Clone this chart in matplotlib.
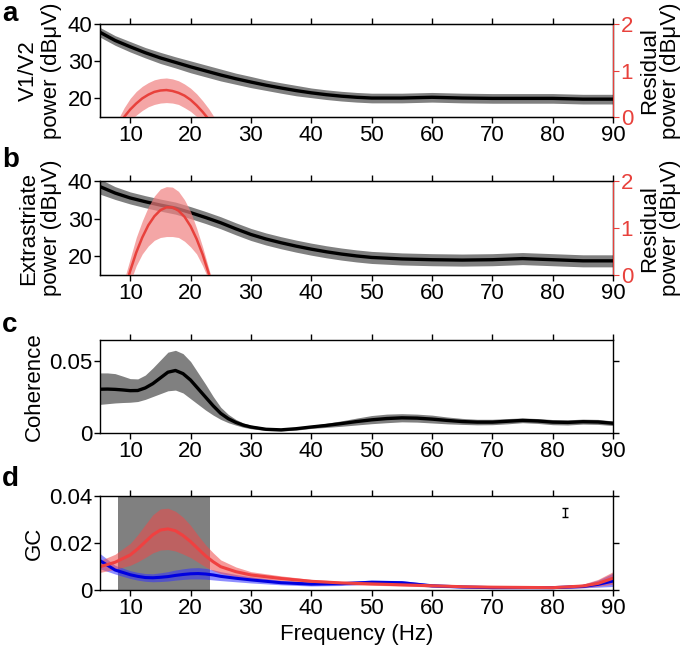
import matplotlib
matplotlib.use('Agg')
import matplotlib.pyplot as plt
import numpy as np

plt.rcParams['font.family'] = ['Liberation Sans', 'DejaVu Sans']
plt.rcParams['font.size'] = 16

# panels a and b: power spectra (black) and residual power (red)
freq = [5, 7.5, 10, 12.5, 15, 17.5, 20, 22.5, 25, 27.5, 30, 32.5, 35, 37.5, 40, 42.5, 45, 47.5, 50,
        55, 60, 65, 70, 75, 80, 85, 90]
pow_a = [37.8, 35.6, 33.9, 32.3, 30.9, 29.7, 28.5, 27.4, 26.3, 25.3, 24.4, 23.55, 22.8, 22.1, 21.5, 21.0, 20.6, 20.3, 20.1,
         20.1, 20.3, 20.1, 20.0, 20.0, 20.0, 19.8, 19.8]
pow_a_err = [1.3, 1.3, 1.4, 1.4, 1.5, 1.5, 1.6, 1.6, 1.6, 1.5, 1.5, 1.4, 1.4, 1.4, 1.3, 1.3, 1.3, 1.3, 1.3,
             1.3, 1.3, 1.3, 1.3, 1.3, 1.3, 1.3, 1.3]
pow_b = [38.5, 36.8, 35.5, 34.5, 33.6, 32.8, 31.6, 30.3, 28.9, 27.3, 25.8, 24.6, 23.6, 22.7, 21.9, 21.2, 20.6, 20.1, 19.7,
         19.3, 19.1, 19.0, 19.1, 19.4, 19.1, 18.8, 18.8]
pow_b_err = [2.0, 1.7, 1.6, 1.6, 1.6, 1.6, 1.6, 1.6, 1.6, 1.6, 1.6, 1.6, 1.6, 1.6, 1.6, 1.6, 1.6, 1.6, 1.6,
             1.6, 1.6, 1.6, 1.6, 1.6, 1.6, 1.6, 1.6]

freq_res = [8, 9, 10, 11, 12, 13, 14, 15, 16, 17, 18, 19, 20, 21, 22, 23, 24]
res_a = [-0.18, 0.0, 0.16, 0.29, 0.40, 0.48, 0.54, 0.57, 0.58, 0.56, 0.52, 0.46, 0.37, 0.25, 0.11, -0.05, -0.24]
res_a_hi = [-0.05, 0.2, 0.4, 0.55, 0.66, 0.74, 0.8, 0.83, 0.84, 0.82, 0.78, 0.71, 0.62, 0.5, 0.35, 0.18, -0.02]
res_a_lo = [-0.35, -0.2, -0.08, 0.04, 0.14, 0.22, 0.27, 0.3, 0.31, 0.3, 0.27, 0.2, 0.12, 0.01, -0.12, -0.28, -0.45]
res_b = [-1.0, -0.37, 0.09, 0.48, 0.80, 1.06, 1.25, 1.38, 1.44, 1.44, 1.37, 1.24, 1.04, 0.77, 0.44, 0.04, -0.42]
res_b_hi = [-0.6, -0.1, 0.35, 0.8, 1.15, 1.45, 1.68, 1.83, 1.88, 1.87, 1.78, 1.6, 1.35, 1.0, 0.6, 0.15, -0.3]
res_b_lo = [-1.2, -0.6, -0.15, 0.2, 0.45, 0.62, 0.74, 0.8, 0.82, 0.82, 0.8, 0.72, 0.6, 0.45, 0.2, -0.1, -0.55]

# panel c: coherence
freq_c = [5, 6.25, 7.5, 8.75, 10, 11.25, 12.5, 13.75, 15, 16.25, 17.5, 18.75, 20, 21.25, 22.5, 23.75, 25,
          26.25, 27.5, 28.75, 30, 32.5, 35, 37.5, 40, 42.5, 45, 47.5, 50, 52.5, 55, 57.5, 60, 62.5, 65,
          67.5, 70, 72.5, 75, 77.5, 80, 82.5, 85, 87.5, 90]
coh = [.0306, .0307, .0305, .0301, .0296, .0297, .0315, .0345, .0385, .0425, .0437, .0415, .037, .031, .025,
       .019, .0137, .0100, .0074, .0055, .0042, .0026, .0022, .003, .0042, .0053, .0066, .008, .0092, .0101,
       .0106, .0104, .0097, .0088, .008, .0076, .0076, .0082, .0088, .0084, .0076, .0074, .0079, .0077, .0068]
coh_hi = [.042, .042, .0415, .0398, .038, .0378, .0405, .0455, .051, .0565, .0578, .0555, .050, .042, .034,
          .0255, .018, .013, .0095, .007, .0055, .0035, .003, .0038, .0052, .0068, .0085, .0104, .0122, .0132,
          .0135, .0132, .0125, .0112, .0102, .0096, .0096, .0101, .0105, .0101, .0094, .0092, .0097, .0095, .0084]
coh_lo = [.020, .0205, .021, .0213, .0215, .022, .0235, .0255, .0275, .0295, .030, .028, .024, .020, .016,
          .0125, .0095, .0072, .0055, .004, .003, .0017, .0014, .002, .0032, .0039, .0047, .0056, .0065, .0072,
          .0078, .0076, .007, .0064, .006, .0057, .0058, .0064, .0072, .0067, .0058, .0056, .0062, .006, .0052]

# panel d: Granger causality, two directions
freq_d = [5, 7.5, 10, 11.25, 12.5, 13.75, 15, 16.25, 17.5, 18.75, 20, 21.25, 22.5, 23.75, 25, 27.5, 30,
          35, 40, 45, 50, 55, 60, 65, 70, 75, 80, 85, 87.5, 90]
gc_red = [.0099, .0118, .0149, .0175, .0205, .0235, .0255, .026, .0252, .0232, .0206, .0175, .0145, .012,
          .0099, .0078, .0064, .0049, .0037, .003, .0026, .0022, .0018, .0014, .0012, .0011, .001, .0017, .0028, .005]
gc_red_hi = [.0125, .0152, .0198, .0235, .0278, .032, .0345, .0348, .0335, .031, .0275, .0232, .0192, .0158,
             .0128, .0098, .0078, .006, .0045, .0037, .0032, .0028, .0023, .0018, .0016, .0015, .0014, .0025, .0045, .0078]
gc_red_lo = [.0075, .0088, .0105, .012, .0138, .0158, .017, .0172, .0166, .0153, .0138, .0118, .0098, .0082,
             .007, .0058, .005, .004, .003, .0024, .002, .0017, .0013, .001, .0008, .0007, .0006, .001, .0016, .0025]
gc_blue = [.0125, .0085, .0065, .0058, .0053, .0052, .0054, .0057, .0062, .0066, .0069, .007, .0068, .0064,
           .0058, .005, .0043, .0031, .0025, .0027, .0033, .0031, .0018, .0013, .001, .001, .001, .0015, .0024, .0038]
gc_blue_hi = [.0155, .0105, .0082, .0075, .007, .0069, .0073, .0078, .0085, .009, .0094, .0095, .0092, .0086,
              .0078, .0066, .0056, .0041, .0033, .0035, .0042, .004, .0025, .0019, .0015, .0015, .0015, .0024, .0042, .0072]
gc_blue_lo = [.009, .0068, .0049, .0042, .0037, .0035, .0036, .0038, .0042, .0045, .0047, .0047, .0046, .0043,
              .004, .0035, .003, .0022, .0017, .0019, .0025, .0023, .0012, .0008, .0006, .0006, .0006, .0009, .0012, .0015]
beta_band = [8, 23.3]
errbar_pos = [82, 0.033]
errbar_half = 0.002

xticks = [10, 20, 30, 40, 50, 60, 70, 80, 90]
GRAY = '#808080'
RED = '#e8413c'
RED_BAND = '#f08080'

fig = plt.figure(figsize=(6.85, 6.52), dpi=100)
L, W = 0.146, 0.749
rects = [(L, 0.8206, W, 0.1424), (L, 0.578, W, 0.1444),
         (L, 0.3359, W, 0.1426), (L, 0.0951, W, 0.1442)]
axes = [fig.add_axes(r) for r in rects]

def style(ax):
    ax.set_xlim(5, 90)
    ax.set_xticks(xticks)
    ax.tick_params(direction='out', length=4, width=1, top=True, right=True, pad=1.5)
    for s in ax.spines.values():
        s.set_linewidth(1)

def power_panel(ax, p, perr, res, rhi, rlo, ylab):
    style(ax)
    p = np.array(p); perr = np.array(perr)
    ax.fill_between(freq, p - perr, p + perr, color=GRAY, lw=0)
    ax.plot(freq, p, color='black', lw=2.4)
    ax.set_ylim(15, 40)
    ax.set_yticks([20, 30, 40])
    ax.set_ylabel(ylab, labelpad=4, linespacing=1.15)
    ax.tick_params(right=False)
    ax2 = ax.twinx()
    ax2.set_xlim(5, 90)
    ax2.fill_between(freq_res, rlo, rhi, color=RED_BAND, alpha=0.7, lw=0)
    ax2.plot(freq_res, res, color=RED, lw=1.8)
    ax2.set_ylim(0, 2)
    ax2.set_yticks([0, 1, 2])
    ax2.spines['right'].set_color(RED)
    ax2.tick_params(axis='y', colors=RED, direction='out', length=4, pad=1.5)
    ax2.set_ylabel('Residual\npower (dB\u03bcV)', labelpad=4, linespacing=1.0)

power_panel(axes[0], pow_a, pow_a_err, res_a, res_a_hi, res_a_lo, 'V1/V2\npower (dB\u03bcV)')
power_panel(axes[1], pow_b, pow_b_err, res_b, res_b_hi, res_b_lo, 'Extrastriate\npower (dB\u03bcV)')

ax = axes[2]
style(ax)
ax.fill_between(freq_c, coh_lo, coh_hi, color=GRAY, lw=0)
ax.plot(freq_c, coh, color='black', lw=2.4)
ax.set_ylim(0, 0.065)
ax.set_yticks([0, 0.05])
ax.set_yticklabels(['0', '0.05'])
ax.set_ylabel('Coherence', labelpad=3)

ax = axes[3]
style(ax)
ax.axvspan(beta_band[0], beta_band[1], color=GRAY, lw=0, zorder=0)
ax.fill_between(freq_d, gc_blue_lo, gc_blue_hi, color='#3030ff', alpha=0.55, lw=0)
ax.plot(freq_d, gc_blue, color='#0000e0', lw=2.2)
ax.fill_between(freq_d, gc_red_lo, gc_red_hi, color='#f04848', alpha=0.55, lw=0)
ax.plot(freq_d, gc_red, color='#f04040', lw=2.2)
ax.errorbar([errbar_pos[0]], [errbar_pos[1]], yerr=errbar_half, color='black',
            lw=1, capsize=2.5, capthick=1)
ax.set_ylim(0, 0.04)
ax.set_yticks([0, 0.02, 0.04])
ax.set_yticklabels(['0', '0.02', '0.04'])
ax.set_ylabel('GC', labelpad=3)
ax.set_xlabel('Frequency (Hz)', labelpad=4)

for lab, y in zip('abcd', [0.999, 0.775, 0.522, 0.285]):
    fig.text(0.003, y, lab, fontsize=20, fontweight='bold', va='top', ha='left')

fig.savefig('out.png', dpi=100)
